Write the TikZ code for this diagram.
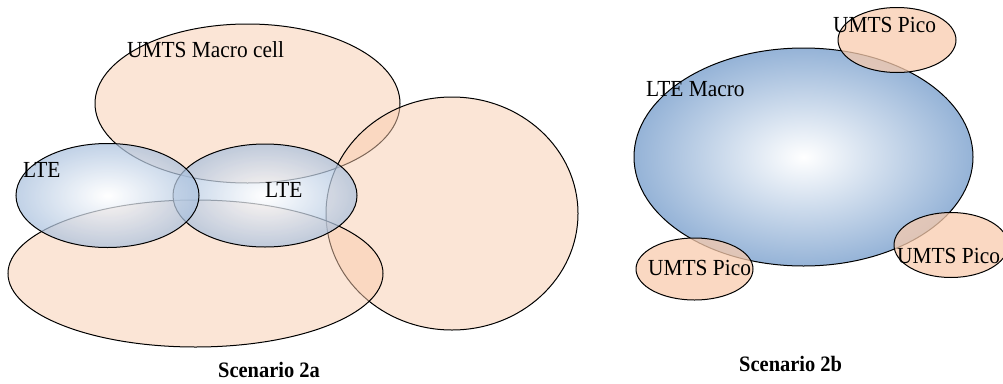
\documentclass[tikz,border=0pt]{standalone}
\usepackage{fontspec}
\setmainfont{Liberation Serif}[FakeStretch=0.93]
\usetikzlibrary{shapes.geometric}
\definecolor{peach}{HTML}{F8CBAD}
\definecolor{ltebl}{HTML}{A9C0DD}
\definecolor{macrobl}{HTML}{95B3D7}
\tikzset{
  cellumts/.style={draw=black, line width=1pt, fill=peach, fill opacity=0.5},
  cellpico/.style={draw=black, line width=1pt, fill=peach, fill opacity=0.75},
  celllte/.style={draw=black, line width=1pt, inner color=white, outer color=ltebl, fill opacity=0.72},
  cellmacro/.style={draw=black, line width=1pt, inner color=white, outer color=macrobl},
  lbl/.style={anchor=base west, inner sep=0pt, font=\fontsize{23}{26}\selectfont},
  scencap/.style={anchor=base west, inner sep=0pt, font=\fontsize{22}{25}\selectfont\bfseries},
}
\begin{document}
\begin{tikzpicture}[x=1pt,y=-1pt]
\useasboundingbox (0,0) rectangle (1003,383);
% Scenario 2a
\path[cellumts] (247.5,103.5) ellipse [x radius=152.5pt, y radius=79.5pt];
\path[cellumts] (452,213.5) ellipse [x radius=126pt, y radius=116.5pt];
\path[cellumts] (195.5,273.5) ellipse [x radius=187.5pt, y radius=73.5pt];
\shade[celllte] (265,195.5) ellipse [x radius=92pt, y radius=51.5pt];
\shade[celllte] (107.5,195.5) ellipse [x radius=91.5pt, y radius=52pt];
\node[lbl] (macrolbl) at (127,57) {UMTS Macro cell};
\node[lbl] (lte1) at (23,177) {LTE};
\node[lbl] (lte2) at (265,197) {LTE};
\node[scencap] (s2a) at (218,377) {Scenario 2a};
% Scenario 2b
\shade[cellmacro] (803.5,157) ellipse [x radius=169.5pt, y radius=109pt];
\path[cellpico] (897,40) ellipse [x radius=59pt, y radius=32.5pt];
\path[cellpico] (694.5,269) ellipse [x radius=58.5pt, y radius=31pt];
\path[cellpico] (951,245) ellipse [x radius=57pt, y radius=32.5pt];
\node[lbl] (ltemacro) at (646,96) {LTE Macro};
\node[lbl] (pico1) at (833,32) {UMTS Pico};
\node[lbl] (pico2) at (648,275) {UMTS Pico};
\node[lbl] (pico3) at (897,263) {UMTS Pico};
\node[scencap] (s2b) at (739,371) {Scenario 2b};
\end{tikzpicture}
\end{document}
